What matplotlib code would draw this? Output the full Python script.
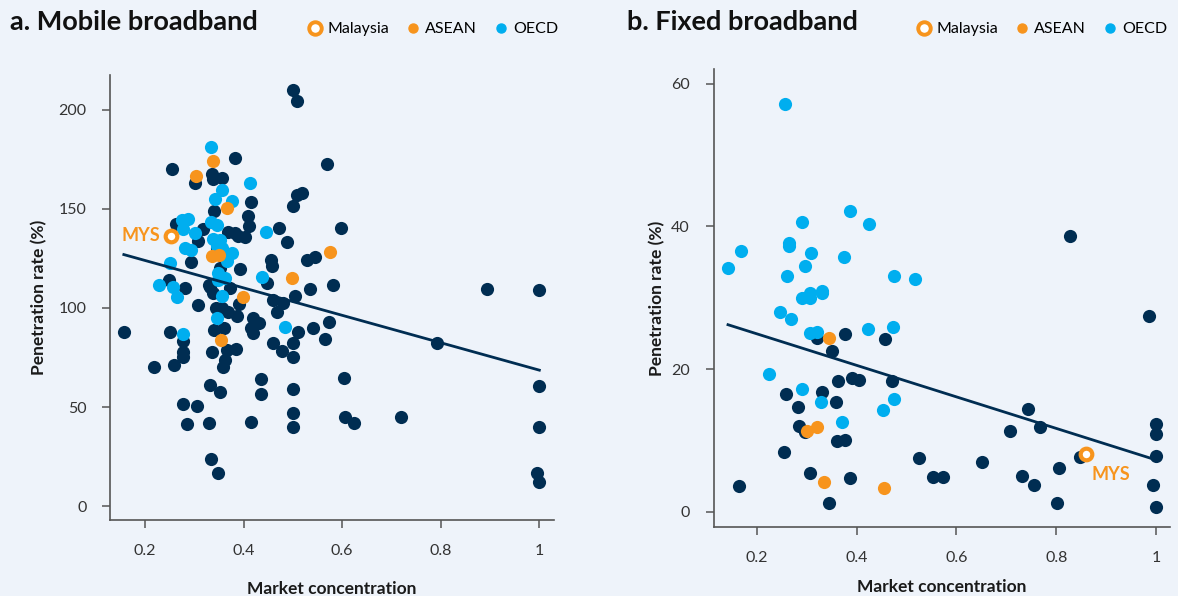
import numpy as np
import matplotlib
matplotlib.use("Agg")
import matplotlib.pyplot as plt
from matplotlib.lines import Line2D

plt.rcParams['font.family'] = ['Lato', 'DejaVu Sans']

NAVY = '#002D52'
SKY = '#00AEEF'
ORANGE = '#F7941D'
BG = '#EEF3FA'

# --- mobile broadband: market concentration vs penetration (%) ---
mob_other_x = [0.157, 0.218, 0.255, 0.251, 0.259, 0.277, 0.285, 0.306, 0.330, 0.334,
               0.348, 0.332, 0.352, 0.436, 0.436, 0.415, 0.500, 0.500, 0.500, 0.604,
               0.606, 0.624, 0.720, 0.793, 0.894, 1.000, 1.000, 1.000, 0.996, 1.000,
               0.281, 0.308, 0.332, 0.338, 0.277, 0.277, 0.277, 0.340, 0.356, 0.369,
               0.387, 0.391, 0.336, 0.366, 0.385, 0.362, 0.358, 0.419, 0.432, 0.415,
               0.419, 0.448, 0.460, 0.468, 0.480, 0.505, 0.460, 0.478, 0.500, 0.500,
               0.511, 0.535, 0.582, 0.541, 0.566, 0.574, 0.500, 0.508, 0.570, 0.383,
               0.356, 0.336, 0.302, 0.338, 0.519, 0.508, 0.500, 0.415, 0.409, 0.411,
               0.472, 0.598, 0.488, 0.456, 0.458, 0.529, 0.545, 0.263, 0.383, 0.403,
               0.307, 0.293, 0.249, 0.330, 0.393, 0.340, 0.318, 0.369, 0.389, 0.346,
               0.352, 0.360, 0.372, 0.344, 0.360]
mob_other_y = [88, 70, 170, 88, 71, 51.5, 41.5, 50.5, 42, 23.7,
               16.7, 61, 57.6, 64, 56.6, 42.4, 59, 47, 40, 64.6,
               45, 42, 45, 82.3, 109.6, 109, 60.6, 40, 16.7, 12,
               110, 101.5, 110.6, 107.6, 83.3, 77.8, 75.3, 88.9, 100, 98,
               96, 102, 77.8, 78.8, 79.3, 73.7, 70.2, 95, 92.4, 90,
               87.4, 112.6, 104, 98, 102.5, 106, 82.3, 78.3, 82.3, 75.3,
               88, 109.6, 111.6, 90, 84.3, 93, 210, 204.5, 172.7, 175.8,
               165.7, 167.7, 163, 165, 158, 157, 151.5, 153.5, 146.5, 141.4,
               140.4, 140.4, 133.3, 124, 121, 124.2, 125.8, 142.4, 138, 136,
               134, 123, 114, 111.6, 119.7, 149, 140, 138.4, 136.4, 130,
               120, 125, 110, 100, 90]
mob_oecd_x = [0.334, 0.413, 0.356, 0.377, 0.342, 0.446, 0.275, 0.287, 0.277, 0.302,
              0.334, 0.346, 0.338, 0.352, 0.346, 0.281, 0.293, 0.356, 0.377, 0.366,
              0.348, 0.362, 0.348, 0.438, 0.356, 0.346, 0.257, 0.265, 0.250, 0.484,
              0.228, 0.277]
mob_oecd_y = [181.3, 163, 159.6, 154, 155, 138.4, 144.4, 145, 140, 138,
              143.4, 142, 135, 134.5, 131, 130, 129, 130, 127.8, 123.7,
              117.7, 115, 114, 115.6, 106, 95, 110.6, 105.6, 122.7, 90.4,
              111.6, 87]
mob_asean_x = [0.338, 0.304, 0.366, 0.336, 0.350, 0.498, 0.399, 0.354, 0.576]
mob_asean_y = [174.2, 166.7, 150.5, 126.3, 126.8, 115, 105.6, 83.8, 128.3]
mob_mys = (0.253, 136.4)

# --- fixed broadband ---
fix_other_x = [0.320, 0.376, 0.456, 0.350, 0.362, 0.390, 0.404, 0.470, 0.258, 0.330,
               0.358, 0.282, 0.284, 0.296, 0.360, 0.376, 0.254, 0.164, 0.306, 0.386,
               0.344, 0.525, 0.553, 0.573, 0.827, 0.986, 0.743, 0.707, 0.767, 0.651,
               0.731, 0.755, 0.805, 0.801, 0.847, 1.000, 1.000, 1.000, 0.994, 1.000]
fix_other_y = [24.3, 24.9, 24.2, 22.5, 18.3, 18.7, 18.5, 18.3, 16.5, 16.8,
               15.4, 14.7, 12, 11.2, 9.9, 10.1, 8.4, 3.6, 5.5, 4.8,
               1.3, 7.5, 4.9, 4.9, 38.7, 27.4, 14.4, 11.3, 11.9, 7,
               5, 3.8, 6.1, 1.2, 7.7, 12.3, 10.9, 7.8, 3.8, 0.7]
fix_oecd_x = [0.256, 0.142, 0.168, 0.264, 0.264, 0.290, 0.308, 0.296, 0.386, 0.424,
              0.374, 0.260, 0.475, 0.517, 0.290, 0.306, 0.306, 0.330, 0.330, 0.246,
              0.268, 0.306, 0.320, 0.422, 0.472, 0.224, 0.290, 0.328, 0.370, 0.474,
              0.452]
fix_oecd_y = [57.2, 34.1, 36.6, 37.6, 37.2, 40.6, 36.2, 34.4, 42.2, 40.3,
              35.7, 33.1, 33.1, 32.6, 30.0, 30.6, 29.9, 31.0, 30.7, 28,
              27, 25, 25.2, 25.6, 25.9, 19.3, 17.2, 15.4, 12.6, 15.8,
              14.3]
fix_asean_x = [0.344, 0.300, 0.320, 0.334, 0.455]
fix_asean_y = [24.3, 11.3, 11.9, 4.2, 3.4]
fix_mys = (0.859, 8.1)


def panel(ax, ox, oy, ex, ey, ax_x, ax_y, mys, xlim, ylim, yticks, ypad, xpad):
    ax.set_facecolor(BG)
    ax.scatter(ox, oy, s=90, color=NAVY, linewidths=0, zorder=2)
    ax.scatter(ex, ey, s=90, color=SKY, linewidths=0, zorder=3)
    ax.scatter(ax_x, ax_y, s=90, color=ORANGE, linewidths=0, zorder=4)
    ax.scatter([mys[0]], [mys[1]], s=70, facecolor='white', edgecolor=ORANGE,
               linewidths=3, zorder=5)

    # linear fit over all economies
    allx = np.array(ox + ex + ax_x + [mys[0]])
    ally = np.array(oy + ey + ax_y + [mys[1]])
    b, a = np.polyfit(allx, ally, 1)
    xs = np.array([allx.min(), allx.max()])
    ax.plot(xs, a + b * xs, color=NAVY, lw=2, zorder=6)

    ax.set_xlim(*xlim)
    ax.set_ylim(*ylim)
    ax.set_xticks([0.2, 0.4, 0.6, 0.8, 1.0])
    ax.set_xticklabels(['0.2', '0.4', '0.6', '0.8', '1'])
    ax.set_yticks(yticks)
    for s in ['top', 'right']:
        ax.spines[s].set_visible(False)
    for s in ['left', 'bottom']:
        ax.spines[s].set_color('#555555')
        ax.spines[s].set_linewidth(1.2)
    ax.tick_params(colors='#555555', labelcolor='#333333', labelsize=11.5,
                   length=6, width=1.1, pad=11)
    ax.set_xlabel('Market concentration', fontsize=12.5, fontweight='bold',
                  color='#1a1a1a', labelpad=xpad)
    ax.set_ylabel('Penetration rate (%)', fontsize=12.5, fontweight='bold',
                  color='#1a1a1a', labelpad=ypad)


def legend(ax, xr):
    handles = [
        Line2D([], [], ls='', marker='o', ms=9, mfc='white', mec=ORANGE, mew=2.8),
        Line2D([], [], ls='', marker='o', ms=6.5, color=ORANGE),
        Line2D([], [], ls='', marker='o', ms=6.5, color=SKY),
    ]
    ax.legend(handles, ['Malaysia', 'ASEAN', 'OECD'], ncol=3, frameon=False,
              loc='center right', bbox_to_anchor=(xr, 1 - 29 / 596),
              bbox_transform=ax.figure.transFigure, fontsize=11.5,
              handletextpad=0.25, columnspacing=1.0, handlelength=1.0,
              borderpad=0, borderaxespad=0)


fig = plt.figure(figsize=(11.78, 5.96), dpi=100)
fig.patch.set_facecolor(BG)

ax1 = fig.add_axes([0.0934, 0.1275, 0.377, 0.7466])
panel(ax1, mob_other_x, mob_other_y, mob_oecd_x, mob_oecd_y,
      mob_asean_x, mob_asean_y, mob_mys, (0.129, 1.030), (-7, 217.5),
      [0, 50, 100, 150, 200], 8, 16.5)
ax1.annotate('MYS', mob_mys, xytext=(-8, 0), textcoords='offset points',
             ha='right', va='center', color=ORANGE, fontsize=13, fontweight='bold')
legend(ax1, 558 / 1178)

ax2 = fig.add_axes([0.6057, 0.1158, 0.3875, 0.768])
panel(ax2, fix_other_x, fix_other_y, fix_oecd_x, fix_oecd_y,
      fix_asean_x, fix_asean_y, fix_mys, (0.113, 1.028), (-2.1, 62),
      [0, 20, 40, 60], 4, 10.5)
ax2.annotate('MYS', fix_mys, xytext=(4, -15), textcoords='offset points',
             ha='left', va='center', color=ORANGE, fontsize=13, fontweight='bold')
legend(ax2, 1167 / 1178)

fig.text(10 / 1178, 1 - 22 / 596, 'a. Mobile broadband', fontsize=19.5,
         fontweight='bold', va='center', ha='left', color='#111111')
fig.text(627 / 1178, 1 - 22 / 596, 'b. Fixed broadband', fontsize=19.5,
         fontweight='bold', va='center', ha='left', color='#111111')

fig.savefig('out.png', dpi=100, facecolor=BG)
